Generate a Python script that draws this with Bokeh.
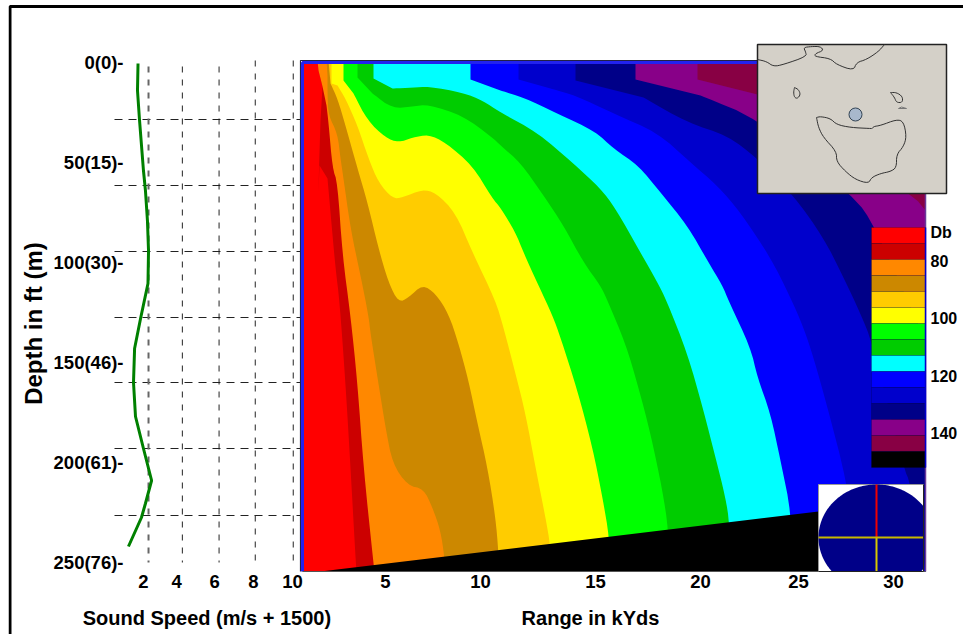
from bokeh.plotting import figure
from bokeh.models import Range1d, LinearAxis, FixedTicker
from bokeh.core.properties import value
from bokeh.embed import file_html
from bokeh.resources import INLINE
import numpy as np

FONT = "Liberation Sans"

# Sound-speed profile: speed (m/s + 1500), depth (ft)
speed_values = [1.42, 1.39, 1.5, 1.72, 1.83, 1.94, 2.0, 1.97, 1.56, 1.23, 1.17, 1.28, 1.72, 2.17, 1.83, 1.61, 0.89]
speed_depths = [0.5, 14, 28.5, 54, 64, 79, 94, 110.5, 128, 143, 160, 177, 193, 209, 220.5, 227.5, 242]
speed_grid = [2, 3.87, 5.9, 7.9, 10]
speed_grid_top = [2, 2, 2, -1, -1]
speed_tick_pos = [1.72, 3.55, 5.65, 7.8, 9.96]
speed_tick_labels = ["2", "4", "6", "8", "10"]

depth_grid = [28.5, 61.5, 94.5, 127.5, 160, 193, 226.5]
depth_ticks = [0, 50, 100, 150, 200, 250]
depth_tick_labels = ["0(0)-", "50(15)-", "100(30)-", "150(46)-", "200(61)-", "250(76)-"]

range_tick_pos = [4.15, 8.9, 14.65, 19.9, 24.8, 29.55]
range_tick_labels = ["5", "10", "15", "20", "25", "30"]

# Transmission-loss band colours, lowest to highest, with the band's left edge (range kYds, depth ft)
level_colors = ["#ff0000", "#cc0000", "#ff8800", "#cc8800", "#ffcc00", "#ffff00", "#00ff00", "#00cc00",
                "#00ffff", "#0000ff", "#0000cc", "#000088", "#880088", "#880044", "#000000"]

darkred_r = [.75, .8, 1.0, .9, .83, .8, .85, 1.25, 1.4, 1.65, 1.85, 2.15, 2.4, 2.65, 2.7]
darkred_d = [-1, 4, 12, 29, 51.5, 65, 51.5, 58, 75, 103, 119, 160.5, 202.5, 247.5, 254.5]
orange_r = [.75, .8, 1.0, 1.2, 1.3, 1.5, 1.75, 2.0, 2.4, 2.75, 3.05, 3.55, 3.6]
orange_d = [-1, 4, 12, 21.5, 30, 53, 60, 96.5, 126.5, 160.5, 202.5, 250.5, 254.5]
brown_r = [1.2, 1.25, 1.25, 1.3, 1.75, 1.9, 2.05, 2.4, 2.9, 3.3, 3.4, 3.75, 4.15, 4.5, 5.25, 6.05, 6.5, 6.9, 7.1, 7.1]
brown_d = [-1, 6.5, 16.5, 26.5, 35.5, 48, 58, 83, 106.5, 126.5, 135.5, 157.5, 182.5, 200.5, 211.5, 213, 222.5, 234, 247.5, 254.5]
gold_r = [1.3, 1.4, 1.75, 2.15, 2.75, 3.25, 3.8, 4.3, 4.8, 5.3, 6.0, 6.65, 7.3, 7.8, 8.3, 8.75, 9.25, 9.65, 9.8, 9.8]
gold_d = [-1, 10.5, 18, 31.5, 53, 70, 93, 110, 120, 117.5, 111, 115.5, 125.5, 140.5, 159, 180.5, 202.5, 227.5, 245, 254.5]
yellow_r = [1.45, 1.45, 1.75, 2.15, 2.75, 3.3, 3.8, 4.5, 5.0, 6.0, 6.65, 7.65, 8.5, 9.65, 10.05, 10.65, 11.15, 11.65, 12.15, 12.4, 12.4]
yellow_d = [-1, 10.5, 11.5, 18, 31.5, 48, 60, 68, 67.5, 63.5, 65, 75, 95, 119, 132.5, 155.5, 175.5, 202.5, 227.5, 242, 254.5]
green_r = [2.05, 2.05, 2.55, 3.25, 4.15, 4.8, 5.5, 6.3, 7.15, 8.5, 9.5, 9.9, 10.65, 11.05, 11.8, 12.5, 12.9, 13.75, 14.5, 15.0, 15.35, 15.35]
green_d = [-1, 9, 15.5, 29, 37.5, 40, 37.5, 36, 40, 51.5, 68, 72.5, 85, 95, 111.5, 126.5, 137.5, 164, 192.5, 217.5, 238, 254.5]
dgreen_r = [2.75, 2.75, 3.5, 4.5, 5.5, 6.3, 8.0, 9.5, 9.9, 10.9, 12.05, 13.05, 14.05, 14.9, 15.25, 16.15, 16.8, 17.4, 18.0, 18.3, 18.3]
dgreen_d = [-1, 7.5, 15.5, 23, 22, 21, 26.5, 37.5, 41.5, 50, 66.5, 81.5, 100, 111.5, 119, 140.5, 162.5, 185.5, 214, 234, 254.5]
cyan_r = [3.55, 3.55, 4.5, 5.5, 6.3, 8.0, 9.0, 9.9, 11.75, 13.55, 14.9, 15.65, 16.9, 17.75, 18.2, 19.25, 20.05, 20.65, 21.15, 21.35, 21.35]
cyan_d = [-1, 8, 13, 12.5, 12, 15, 19, 25, 35, 50.5, 63, 73, 95, 110, 119, 145.5, 174, 197.5, 217.5, 230.5, 254.5]
blue_r = [8.4, 8.4, 9.9, 11.05, 12.75, 14.65, 15.55, 16.8, 17.9, 19.25, 20.3, 21.0, 21.3, 22.4, 22.75, 23.4, 23.9, 24.45, 24.45]
blue_d = [-1, 8.5, 14, 17.5, 25.5, 34.5, 43, 51.5, 65, 81.5, 100, 111.5, 119, 142.5, 157.5, 175.5, 199, 226, 254.5]
mblue_r = [10.8, 10.8, 12.4, 13.65, 15.55, 17.75, 19.4, 20.75, 21.9, 23.4, 24.4, 25.05, 25.55, 26.25, 27.2, 27.9]
mblue_d = [-1, 8.5, 13, 16.5, 25.5, 35, 50, 61.5, 75, 97.5, 117.5, 132.5, 147.5, 172.5, 209, 254.5]
navy_r = [13.65, 13.65, 17.05, 19.25, 21.25, 22.75, 24.55, 26.05, 27.05, 27.9, 28.5, 30.05, 30.4, 31.15]
navy_d = [-1, 9, 17.5, 30, 36.5, 48, 66.5, 87.5, 107.5, 125.5, 140.5, 202.5, 210.5, 254.5]
purple_r = [16.65, 16.65, 19.9, 22.75, 27.55, 28.65, 31.15]
purple_d = [-1, 8.5, 16.5, 28, 66.5, 82.5, 139]
maroon_r = [19.75, 19.75, 22.75, 30.55, 31.15]
maroon_d = [-1, 8.5, 16, 66.5, 74]

seabed_r = [0.9, 25.8, 25.8]
seabed_d = [254.5, 224.5, 254.5]

# Legend
legend_tick_pos = [0.31, 2.1, 5.69, 9.31, 12.88]
legend_tick_labels = ["Db", "80", "100", "120", "140"]

# Locator map outlines (map units)
coast_n_x = [0, 9, 16, 26, 49, 48, 46, 54, 63, 66, 58, 57, 73, 79, 96, 99, 109, 121, 127]
coast_n_y = [15, 17, 22, 20, 12, 7, 3, 2, 2, 6, 9, 12, 14, 20, 26, 18, 15, 7, 0]
isle_w_x = [37, 41, 43, 40, 37, 36, 37]
isle_w_y = [43, 45, 50, 54, 53, 48, 43]
isle_e_x = [133, 139, 145, 145, 139, 137, 133]
isle_e_y = [48, 48, 52, 58, 58, 53, 48]
isle_s_x = [141, 144, 149, 141]
isle_s_y = [64, 62.5, 64, 64]
land_x = [59, 63, 73, 79, 93, 113, 115, 116, 123, 139, 146, 149, 146, 139, 139, 133, 123, 114, 111, 98, 88, 79, 79, 66, 61, 59]
land_y = [73, 72, 74, 80, 83, 84, 84, 82, 81, 75, 77, 92, 102, 110, 123, 127, 129, 133, 139, 135, 127, 117, 107, 93, 83, 73]
site_x = [98]
site_y = [70]

R_MAX, D_TOP, D_BOT = 31.15, -1, 254.5


def rounded(xs, ys, start=1):
    """Round the corners of an outline drawn from read-off vertices (corner cutting); ends stay put."""
    hx, hy = list(xs[:start]), list(ys[:start])
    x, y = np.array(xs[start:], float), np.array(ys[start:], float)
    for _ in range(2):
        qx = np.column_stack([.75 * x[:-1] + .25 * x[1:], .25 * x[:-1] + .75 * x[1:]]).ravel()
        qy = np.column_stack([.75 * y[:-1] + .25 * y[1:], .25 * y[:-1] + .75 * y[1:]]).ravel()
        x = np.concatenate([x[:1], qx, x[-1:]])
        y = np.concatenate([y[:1], qy, y[-1:]])
    return hx + list(x), hy + list(y)


p = figure(width=955, height=630, margin=(4, 0, 0, 8),
           x_range=Range1d(-14.7, 33.05), y_range=Range1d(286, -29),
           x_axis_type=None, y_axis_type=None, toolbar_location=None,
           output_backend="svg", min_border=0, outline_line_color=None,
           background_fill_color="white", border_fill_color="white")
p.extra_x_ranges = {"speed": Range1d(-5.74, 47.05), "mapx": Range1d(-749, 206)}
p.extra_y_ranges = {"legend": Range1d(25.44, -13.94), "mapy": Range1d(590, -40)}

# Page border
p.line([-14.625, -14.625, 33.05], [286, -28, -28], line_color="black", line_width=3)

# Grid of the sound speed panel
p.segment(x0=[-9.4] * len(depth_grid), x1=[0] * len(depth_grid), y0=depth_grid, y1=depth_grid,
          line_color="#222222", line_width=1, line_dash="8 6")
for i, (s, t) in enumerate(zip(speed_grid, speed_grid_top)):
    p.line([s, s], [t, 250], x_range_name="speed", line_color="#666666" if i == 0 else "#222222",
           line_width=2 if i == 0 else 1, line_dash="6 7")

p.line(speed_values, speed_depths, x_range_name="speed", line_color="#008000", line_width=3)

# Contour bands, painted left to right
p.quad(left=[0], right=[R_MAX], top=[D_TOP], bottom=[D_BOT], fill_color=level_colors[0], line_color=None)
bands = [(darkred_r, darkred_d, 7), (orange_r, orange_d, 3), (brown_r, brown_d, 1), (gold_r, gold_d, 1),
         (yellow_r, yellow_d, 2), (green_r, green_d, 2), (dgreen_r, dgreen_d, 2), (cyan_r, cyan_d, 2),
         (blue_r, blue_d, 2), (mblue_r, mblue_d, 2), (navy_r, navy_d, 2), (purple_r, purple_d, 2),
         (maroon_r, maroon_d, 2)]
for (r, d, s), c in zip(bands, level_colors[1:]):
    rr, dd = rounded(r, d, s)
    p.patch(rr + [R_MAX, R_MAX], dd + [dd[-1], D_TOP], fill_color=c, line_color=None)
p.patch(seabed_r, seabed_d, fill_color="black", line_color=None)

# Frame of the contour panel
p.line([-.1, -.1, R_MAX], [D_BOT, D_TOP, D_TOP], line_color="#222244", line_width=1.2)
p.line([0, 0, R_MAX], [D_BOT, 0, 0], line_color="#2222ee", line_width=3)
p.line([0, R_MAX], [D_BOT, D_BOT], line_color="#555555", line_width=1.2)
p.line([R_MAX, R_MAX], [D_TOP, D_BOT], line_color="#6a3a9a", line_width=1.5)

# Colour legend
n = len(level_colors)
p.quad(left=[28.45] * n, right=[31.15] * n, top=list(range(n)), bottom=list(range(1, n + 1)),
       y_range_name="legend", fill_color=level_colors, line_color="#000000", line_alpha=0.18, line_width=1)
p.line([31.15, 31.15], [0, n], y_range_name="legend", line_color="#0000cc", line_width=1.5)

# Beam pattern inset
box_l, box_r, box_t, box_b = 25.8, 31.05, 211, 254.5
cx, cy = 28.7, 237.5
p.quad(left=[box_l], right=[box_r], top=[box_t], bottom=[box_b], fill_color="white", line_color="#999999", line_width=1)
th = np.linspace(0, 2 * np.pi, 240)
p.patch(np.clip(cx + 2.9 * np.cos(th), box_l, box_r), np.clip(cy + 26.5 * np.sin(th), box_t, box_b),
        fill_color="#000088", line_color=None)
p.line([cx, cx], [box_t, cy], line_color="#f00000", line_width=2)
p.line([cx, cx], [cy, box_b], line_color="#d8c800", line_width=2)
p.line([box_l, box_r], [cy, cy], line_color="#c8b800", line_width=2)
p.line([box_r, box_r], [box_t, box_b], line_color="#222222", line_width=1)
p.line([box_l, box_r], [box_b, box_b], line_color="#222222", line_width=1)

# Locator map
mk = dict(x_range_name="mapx", y_range_name="mapy")
p.quad(left=[0], right=[189], top=[0], bottom=[149], fill_color="#d4d0c8", line_color="#222222", line_width=1.5, **mk)
for xs, ys in [(coast_n_x, coast_n_y), (isle_w_x, isle_w_y), (isle_e_x, isle_e_y), (land_x, land_y)]:
    mx, my = rounded(xs, ys, 0)
    p.line(mx, my, line_color="#333333", line_width=1, **mk)
p.line(isle_s_x, isle_s_y, line_color="#777777", line_width=1, **mk)
p.scatter(site_x, site_y, size=13, fill_color="#a8b8cc", line_color="#334455", line_width=1, **mk)

# Axes, fixed inside the frame
def style(ax, ticks, labels, size):
    ax.ticker = FixedTicker(ticks=list(ticks))
    ax.major_label_overrides = dict(zip(ticks, labels))
    ax.axis_line_color = None
    ax.major_tick_line_color = None
    ax.minor_tick_line_color = None
    ax.major_tick_in = 0
    ax.major_tick_out = 0
    ax.major_label_text_font = FONT
    ax.major_label_text_font_style = "bold"
    ax.major_label_text_font_size = size
    ax.major_label_text_color = "black"

left_ax = LinearAxis(fixed_location=-8.9)
style(left_ax, depth_ticks, depth_tick_labels, "18.5px")
left_ax.major_label_standoff = 1
p.add_layout(left_ax, "left")

range_ax = LinearAxis(fixed_location=255)
style(range_ax, range_tick_pos, range_tick_labels, "18.5px")
range_ax.major_label_standoff = 2
p.add_layout(range_ax, "below")

speed_ax = LinearAxis(fixed_location=255, x_range_name="speed")
style(speed_ax, speed_tick_pos, speed_tick_labels, "18.5px")
speed_ax.major_label_standoff = 2
p.add_layout(speed_ax, "below")

legend_ax = LinearAxis(fixed_location=31.25, y_range_name="legend")
style(legend_ax, legend_tick_pos, legend_tick_labels, "16px")
legend_ax.major_label_standoff = 3
p.add_layout(legend_ax, "right")

# Axis titles
tk = dict(text_font=value(FONT), text_font_style="bold", text_color="black", text_align="center", text_baseline="middle")
p.text([-4.78], [277.5], text=["Sound Speed (m/s + 1500)"], text_font_size="20px", **tk)
p.text([14.4], [277.5], text=["Range in kYds"], text_font_size="20px", **tk)
p.text([-13.45], [130.5], text=["Depth in ft (m)"], text_font_size="24px", angle=np.pi / 2, **tk)

open("out.html", "w").write(file_html(p, INLINE))
